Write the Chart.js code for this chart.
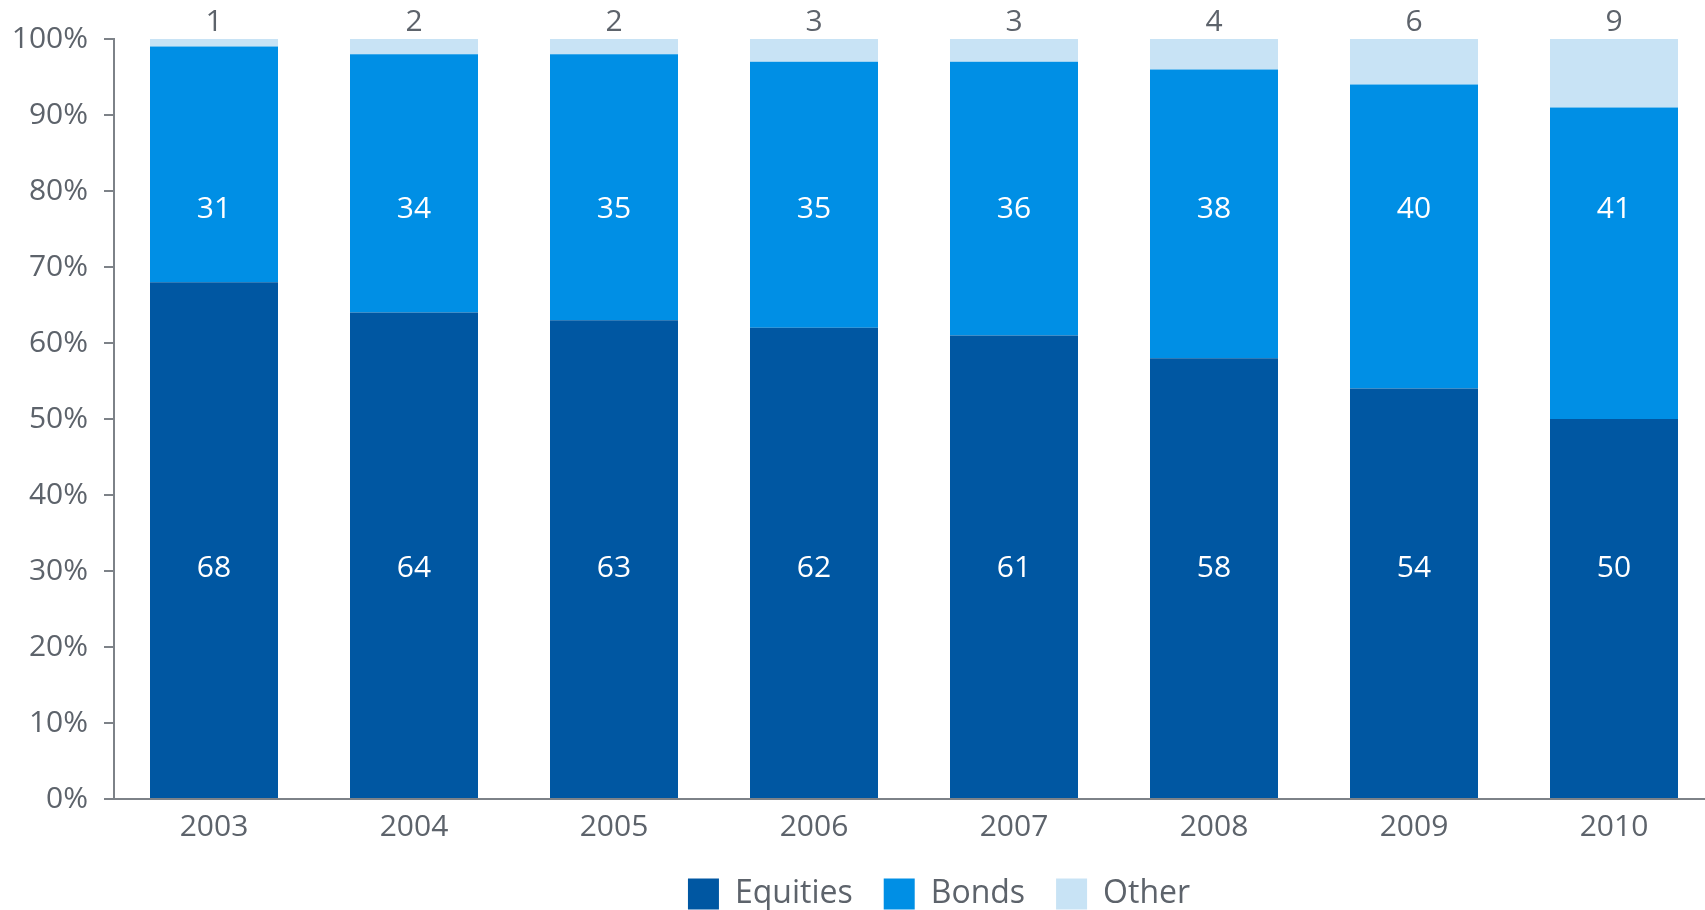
<!DOCTYPE html>
<html>
<head>
<meta charset="utf-8">
<script src="https://cdn.jsdelivr.net/npm/chart.js@4.4.1/dist/chart.umd.min.js"></script>
<style>
  html, body { margin: 0; padding: 0; background: #fff; overflow: hidden; }
  #wrap { width: 1705px; height: 910px; overflow: hidden; }
</style>
</head>
<body>
<div id="wrap"><canvas id="myChart" width="1714" height="910"></canvas></div>
<script>
let years = ['2003', '2004', '2005', '2006', '2007', '2008', '2009', '2010'];
let equities = [68, 64, 63, 62, 61, 58, 54, 50];
let bonds = [31, 34, 35, 35, 36, 38, 40, 41];
let other = [1, 2, 2, 3, 3, 4, 6, 9];
let yTicks = [0, 10, 20, 30, 40, 50, 60, 70, 80, 90, 100];

let txtGrey = '#5d636b';
let axisGrey = '#7d8288';
let fnt = '"Open Sans", "Noto Sans", sans-serif';

// labels in the bars sit on one common line per series
let labelPlugin = {
  id: 'barLabels',
  afterLayout(chart) {
    // legend sits right of centre in the original
    chart.legend.left += 82;
    chart.legend.right += 82;
  },
  afterDatasetsDraw(chart) {
    let c = chart.ctx;
    let y = chart.scales.y;
    c.save();
    c.font = '30px ' + fnt;
    c.textAlign = 'center';
    c.textBaseline = 'middle';
    chart.data.datasets.forEach((ds, i) => {
      let meta = chart.getDatasetMeta(i);
      meta.data.forEach((bar, j) => {
        let ly;
        if (i == 0) { c.fillStyle = '#ffffff'; ly = y.getPixelForValue(30.3); }
        else if (i == 1) { c.fillStyle = '#ffffff'; ly = y.getPixelForValue(77.6); }
        else { c.fillStyle = txtGrey; ly = bar.y - 17; }
        c.fillText(ds.data[j], bar.x, ly);
      });
    });
    c.restore();
  }
};

let ctx = document.getElementById('myChart');

let chart_temp = {
  type: 'bar',
  data: {
    labels: years,
    datasets: [
      { label: 'Equities', data: equities, backgroundColor: '#0057a2' },
      { label: 'Bonds', data: bonds, backgroundColor: '#008fe5' },
      { label: 'Other', data: other, backgroundColor: '#c8e3f5' }
    ]
  },
  options: {
    responsive: false,
    animation: false,
    layout: { padding: { top: 39, left: 0, right: 0, bottom: -10 } },
    datasets: { bar: { categoryPercentage: 1, barPercentage: 0.64 } },
    scales: {
      x: {
        stacked: true,
        afterFit: (s) => { s.height = 48; },
        grid: { drawOnChartArea: false, drawTicks: false },
        border: { display: true, color: axisGrey, width: 2 },
        ticks: { color: txtGrey, font: { family: fnt, size: 30 }, padding: 10 }
      },
      y: {
        stacked: true,
        min: 0,
        max: 100,
        afterBuildTicks: (s) => { s.ticks = yTicks.map(v => ({ value: v })); },
        afterFit: (s) => { s.width = 114; },
        grid: { drawOnChartArea: false, tickLength: 10, color: axisGrey, lineWidth: 2 },
        border: { display: true, color: axisGrey, width: 2 },
        ticks: {
          color: txtGrey,
          font: { family: fnt, size: 30 },
          padding: 16,
          callback: (v) => v + '%'
        }
      }
    },
    plugins: {
      tooltip: { enabled: false },
      legend: {
        position: 'bottom',
        labels: {
          color: txtGrey,
          font: { family: fnt, size: 32 },
          boxWidth: 31,
          boxHeight: 31,
          padding: 31
        }
      }
    }
  },
  plugins: [labelPlugin]
};

const myChart = new Chart(ctx, chart_temp);
</script>
</body>
</html>
